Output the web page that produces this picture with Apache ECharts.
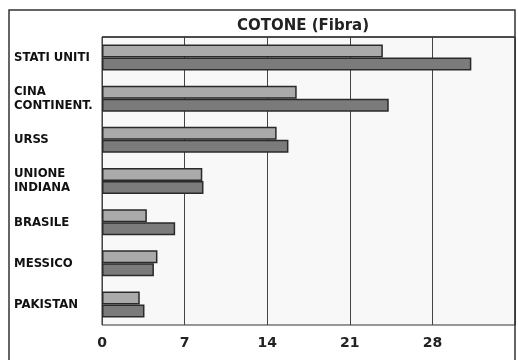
<!DOCTYPE html>
<html><head><meta charset="utf-8">
<script src="https://cdn.jsdelivr.net/npm/echarts@6/dist/echarts.min.js"></script>
<style>html,body{margin:0;padding:0;background:#fff}#c{width:518px;height:360px}</style>
</head><body><div id="c"></div>
<script>
const categories = ['STATI UNITI', 'CINA\nCONTINENT.', 'URSS', 'UNIONE\nINDIANA', 'BRASILE', 'MESSICO', 'PAKISTAN'];
const seriesLight = [23.8, 16.5, 14.8, 8.5, 3.8, 4.7, 3.2];
const seriesDark = [31.3, 24.3, 15.8, 8.6, 6.2, 4.4, 3.6];
const xTicks = [0, 7, 14, 21, 28];

const chart = echarts.init(document.getElementById('c'), null, {renderer: 'canvas'});
chart.setOption({
  animation: false,
  backgroundColor: '#ffffff',
  title: {
    text: 'COTONE (Fibra)',
    left: 298, top: 14, textAlign: 'center',
    textStyle: {fontFamily: 'DejaVu Sans', fontSize: 15, fontWeight: 'bold', color: '#222'}
  },
  graphic: [
    {type: 'polyline', shape: {points: [[9, 360], [9, 10], [515, 10], [515, 360]]}, style: {stroke: '#333', lineWidth: 1.5, fill: null}, z: 10},
    {type: 'line', shape: {x1: 102, y1: 37, x2: 515, y2: 37}, style: {stroke: '#333', lineWidth: 1.5}, z: 10}
  ],
  grid: {left: 102, top: 37, right: 3, bottom: 35, show: true, backgroundColor: '#f8f8f8', borderColor: '#333', borderWidth: 1},
  xAxis: {
    type: 'value', min: 0, max: 35, interval: 7,
    axisLine: {show: false}, axisTick: {show: false},
    splitLine: {show: true, lineStyle: {color: '#444', width: 1}},
    axisLabel: {
      margin: 11, color: '#222', fontFamily: 'DejaVu Sans', fontSize: 14, fontWeight: 'bold',
      formatter: v => xTicks.indexOf(v) >= 0 ? String(v) : ''
    }
  },
  yAxis: {
    type: 'category', data: categories, inverse: true,
    axisLine: {show: false}, axisTick: {show: false},
    axisLabel: {align: 'left', margin: 88, color: '#111', fontFamily: 'DejaVu Sans Condensed', fontSize: 13, fontWeight: 'bold', lineHeight: 14}
  },
  series: [
    {type: 'bar', data: seriesLight, barWidth: 13, barGap: '0%',
     itemStyle: {color: '#aaaaaa', borderColor: '#2a2a2a', borderWidth: 1.5}},
    {type: 'bar', data: seriesDark, barWidth: 13, barGap: '0%',
     itemStyle: {color: '#7b7b7b', borderColor: '#2a2a2a', borderWidth: 1.5}}
  ]
});
</script></body></html>
